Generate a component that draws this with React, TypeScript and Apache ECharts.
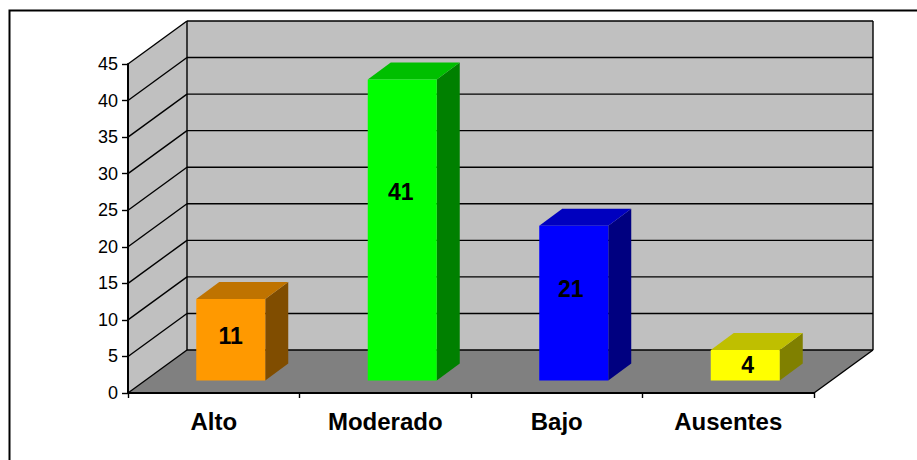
import React, { useEffect, useRef } from "react";
import * as echarts from "echarts";

const categories = ["Alto", "Moderado", "Bajo", "Ausentes"];
const values = [11, 41, 21, 4];
const faceColors = ["#FF9900", "#00FF00", "#0000FF", "#FFFF00"];
const topColors = ["#BF7300", "#00BF00", "#0000BF", "#BFBF00"];
const sideColors = ["#804D00", "#008000", "#000080", "#808000"];
const valueTicks = [0, 5, 10, 15, 20, 25, 30, 35, 40, 45];

const FONT = '"Liberation Sans", Arial, sans-serif';
// Oblique projection offsets of the box that holds the plot
const BOX_DX = 59;
const BOX_DY = -43;
// Where a bar sits inside that box, and how deep it is
const BAR_DX = 17;
const BAR_DY = -12.5;
const BAR_DEPTH_X = 23;
const BAR_DEPTH_Y = -17;
const BAR_WIDTH = 69;
const LINE = { stroke: "#000", lineWidth: 1.4 };
// Nudge of each value label away from its computed anchor
const LABEL_NUDGE_X = [0, -1.5, -3, 2.5];
const LABEL_NUDGE_Y = [2, -1, 2, -1];

function renderWalls(params: any, api: any) {
  const cs = params.coordSys;
  const x0 = cs.x;
  const x1 = cs.x + cs.width;
  const y0 = cs.y + cs.height;
  const yTop = cs.y;
  const poly = (points: number[][], fill: string) => ({
    type: "polygon",
    shape: { points },
    style: { fill, stroke: "none" },
  });
  const seg = (a: number[], b: number[]) => ({
    type: "line",
    shape: { x1: a[0], y1: a[1], x2: b[0], y2: b[1] },
    style: LINE,
  });
  const children: any[] = [
    poly(
      [[x0 + BOX_DX, yTop + BOX_DY], [x1 + BOX_DX, yTop + BOX_DY], [x1 + BOX_DX, y0 + BOX_DY], [x0 + BOX_DX, y0 + BOX_DY]],
      "#C0C0C0"
    ),
    poly([[x0, y0], [x0 + BOX_DX, y0 + BOX_DY], [x0 + BOX_DX, yTop + BOX_DY], [x0, yTop]], "#C0C0C0"),
    poly([[x0, y0], [x1, y0], [x1 + BOX_DX, y0 + BOX_DY], [x0 + BOX_DX, y0 + BOX_DY]], "#808080"),
  ];
  valueTicks.forEach((t) => {
    const y = api.coord([0, t])[1];
    children.push(seg([x0, y], [x0 + BOX_DX, y + BOX_DY]));
    children.push(seg([x0 + BOX_DX, y + BOX_DY], [x1 + BOX_DX, y + BOX_DY]));
  });
  children.push(seg([x0 + BOX_DX, yTop + BOX_DY], [x0 + BOX_DX, y0 + BOX_DY]));
  children.push(seg([x1 + BOX_DX, yTop + BOX_DY], [x1 + BOX_DX, y0 + BOX_DY]));
  children.push(seg([x1, y0], [x1 + BOX_DX, y0 + BOX_DY]));
  return { type: "group", children };
}

function renderBar(params: any, api: any) {
  const idx = params.dataIndex;
  const value = api.value(1);
  const base = api.coord([idx, 0]);
  const head = api.coord([idx, value]);
  const left = base[0] + BAR_DX - BAR_WIDTH / 2;
  const right = left + BAR_WIDTH;
  const bottom = base[1] + BAR_DY;
  const top = head[1] + BAR_DY - 1.2;
  const labelY = api.coord([idx, value * 0.64])[1] - 8 + LABEL_NUDGE_Y[idx];
  return {
    type: "group",
    children: [
      {
        type: "polygon",
        shape: {
          points: [[right, bottom], [right + BAR_DEPTH_X, bottom + BAR_DEPTH_Y], [right + BAR_DEPTH_X, top + BAR_DEPTH_Y], [right, top]],
        },
        style: { fill: sideColors[idx] },
      },
      {
        type: "polygon",
        shape: {
          points: [[left, top], [right, top], [right + BAR_DEPTH_X, top + BAR_DEPTH_Y], [left + BAR_DEPTH_X, top + BAR_DEPTH_Y]],
        },
        style: { fill: topColors[idx] },
      },
      {
        type: "rect",
        shape: { x: left, y: top, width: BAR_WIDTH, height: bottom - top },
        style: { fill: faceColors[idx] },
      },
      {
        type: "text",
        x: (left + right) / 2 + LABEL_NUDGE_X[idx],
        y: labelY,
        style: {
          text: String(value),
          fill: "#000",
          font: `bold 23px ${FONT}`,
          align: "center",
          verticalAlign: "middle",
        },
      },
    ],
  };
}

export default function App() {
  const ref = useRef<HTMLDivElement>(null);

  useEffect(() => {
    document.body.style.margin = "0";
    const chart = echarts.init(ref.current!, undefined, { renderer: "svg" });
    chart.setOption({
      animation: false,
      backgroundColor: "#fff",
      grid: { left: 128, top: 64, width: 686, height: 329, containLabel: false },
      xAxis: {
        type: "category",
        data: categories,
        z: 5,
        axisLine: { lineStyle: { color: "#000", width: 2 } },
        axisTick: { show: true, length: 5, lineStyle: { color: "#000", width: 1.4 } },
        axisLabel: { color: "#000", fontFamily: FONT, fontWeight: "bold", fontSize: 24, margin: 16 },
        splitLine: { show: false },
      },
      yAxis: {
        type: "value",
        min: 0,
        max: 45,
        interval: 5,
        z: 5,
        axisLine: { show: true, lineStyle: { color: "#000", width: 2 } },
        axisTick: { show: true, length: 6, lineStyle: { color: "#000", width: 1.4 } },
        axisLabel: { color: "#000", fontFamily: FONT, fontSize: 18, margin: 10, padding: [3, 0, 0, 0] },
        splitLine: { show: false },
      },
      graphic: [
        {
          type: "rect",
          z: 10,
          shape: { x: 9.5, y: 10.5, width: 930, height: 470 },
          style: { fill: "none", stroke: "#000", lineWidth: 2 },
        },
      ],
      series: [
        {
          type: "custom",
          z: 1,
          silent: true,
          clip: false,
          data: [[0, 0]],
          renderItem: renderWalls,
        },
        {
          type: "custom",
          z: 6,
          clip: false,
          data: values.map((v, i) => [i, v]),
          encode: { x: 0, y: 1 },
          renderItem: renderBar,
        },
      ],
    });
    return () => chart.dispose();
  }, []);

  return <div ref={ref} style={{ width: 917, height: 460 }} />;
}
